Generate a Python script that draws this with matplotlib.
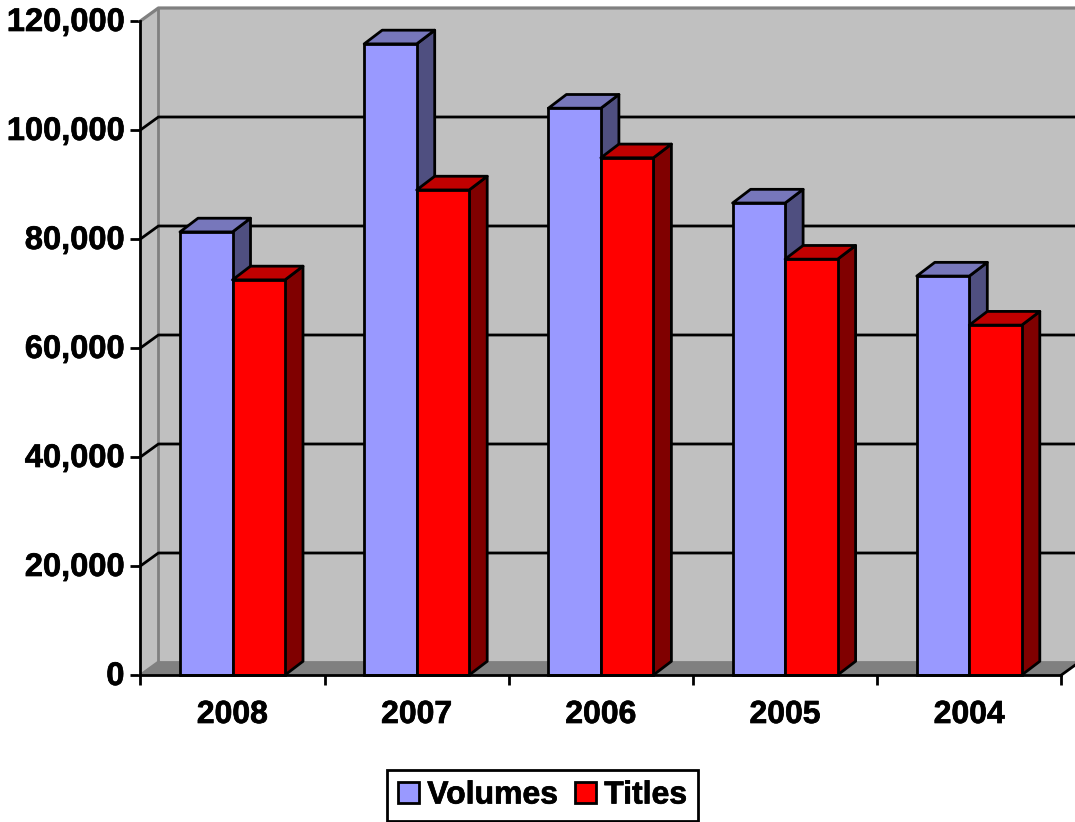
import matplotlib
matplotlib.use('Agg')
import matplotlib.pyplot as plt
import matplotlib.patheffects as pe
from matplotlib.patches import Patch
from matplotlib.transforms import ScaledTranslation

plt.rcParams['font.family'] = ['Liberation Sans', 'DejaVu Sans']
plt.rcParams['font.weight'] = 'bold'

years = ['2008', '2007', '2006', '2005', '2004']
volumes = [81300, 115800, 104000, 86600, 73200]
titles = [72500, 89000, 94900, 76300, 64200]
y_ticks = [0, 20000, 40000, 60000, 80000, 100000, 120000]

W, H = 1075, 822
fig = plt.figure(figsize=(W / 100, H / 100), dpi=100)
ax = fig.add_axes([140.4 / W, (H - 675) / H, (1062 - 141) / W, (675 - 21) / H])
ax.set_xlim(0, 5)
ax.set_ylim(0, 120000)

# depth of the fake 3d box, in data units
dx = 18 / (921 / 5)
dy = 13 / (654 / 120000)
bar_dy = 13.7 / (654 / 120000)
bar_w = 0.285
lw = 2.0

# walls
ax.fill([dx, 5 + dx, 5 + dx, dx], [dy, dy, 120000 + dy, 120000 + dy],
        color='#c0c0c0', lw=0, clip_on=False, zorder=1)
ax.fill([0, dx, dx, 0], [0, dy, 120000 + dy, 120000],
        color='#c0c0c0', lw=0, clip_on=False, zorder=1)
ax.fill([0, 5, 5 + dx, dx], [0, 0, dy, dy],
        color='#808080', lw=0, clip_on=False, zorder=1)
ax.plot([0, dx, dx, 5 + dx], [120000, 120000 + dy, 120000 + dy, 120000 + dy],
        color='#808080', lw=lw + 0.3, clip_on=False, zorder=2)
ax.plot([dx, dx, 5 + dx], [120000 + dy, dy, dy],
        color='#808080', lw=lw, clip_on=False, zorder=2)
ax.plot([0, dx], [0, dy], color='#808080', lw=lw, clip_on=False, zorder=2)

# gridlines run over the side wall and the back wall
for t in y_ticks[1:-1]:
    ax.plot([0, dx, 5 + dx], [t, t + dy, t + dy], color='black', lw=lw,
            clip_on=False, zorder=3)
ax.plot([5, 5 + dx], [0, dy], color='black', lw=lw, clip_on=False, zorder=3)


def box(x, val, front, top, side, z):
    ax.fill([x + bar_w, x + bar_w + dx, x + bar_w + dx, x + bar_w],
            [0, bar_dy, val + bar_dy, val], facecolor=side, edgecolor='black',
            lw=lw, joinstyle='round', clip_on=False, zorder=z)
    ax.fill([x, x + dx, x + bar_w + dx, x + bar_w],
            [val, val + bar_dy, val + bar_dy, val], facecolor=top,
            edgecolor='black', lw=lw, joinstyle='round', clip_on=False, zorder=z)
    ax.bar(x, val, width=bar_w, align='edge', facecolor=front,
           edgecolor='black', lw=lw, clip_on=False, zorder=z + 0.5)


for i in range(len(years)):
    left = i + 0.5 - bar_w
    box(left, volumes[i], '#9999ff', '#7777bb', '#4f4f80', 4 + i * 2)
    box(i + 0.5, titles[i], '#ff0000', '#c00000', '#800000', 5 + i * 2)

for s in ['top', 'right']:
    ax.spines[s].set_visible(False)
for s in ['left', 'bottom']:
    ax.spines[s].set_linewidth(lw)
    ax.spines[s].set_zorder(30)

ax.set_yticks(y_ticks)
ax.set_yticklabels([f'{t:,}' for t in y_ticks], fontsize=23.5, fontweight='bold')
ax.tick_params(axis='y', length=7.5, width=lw, pad=4)
ax.set_xticks(range(6))
ax.set_xticklabels([])
ax.set_xticks([i + 0.5 for i in range(5)], labels=years, minor=True,
              fontsize=23, fontweight='bold')
ax.tick_params(axis='x', which='major', length=7.5, width=lw)
ax.tick_params(axis='x', which='minor', length=0, pad=18)

handles = [Patch(facecolor='#9999ff', edgecolor='black', lw=lw),
           Patch(facecolor='#ff0000', edgecolor='black', lw=lw)]
leg = fig.legend(handles, ['Volumes', 'Titles'], ncol=2, fontsize=23,
                 loc='center', bbox_to_anchor=(542.5 / W, (H - 795.5) / H),
                 fancybox=False, framealpha=1, edgecolor='black',
                 handlelength=0.66, handleheight=0.66, handletextpad=0.26,
                 columnspacing=0.52, borderpad=0.34, borderaxespad=0)
leg.get_frame().set_linewidth(lw)

# the original text is a bit heavier than Liberation bold
stroke = [pe.withStroke(linewidth=0.5, foreground='black')]
texts = ax.get_yticklabels() + ax.get_xticklabels(minor=True) + leg.get_texts()
for t in texts:
    t.set_path_effects(stroke)

# y labels sit about 2px higher than the ticks
up = ScaledTranslation(0, 2 / 100, fig.dpi_scale_trans)
for t in ax.get_yticklabels():
    t.set_transform(t.get_transform() + up)

fig.savefig('out.png', dpi=100)
